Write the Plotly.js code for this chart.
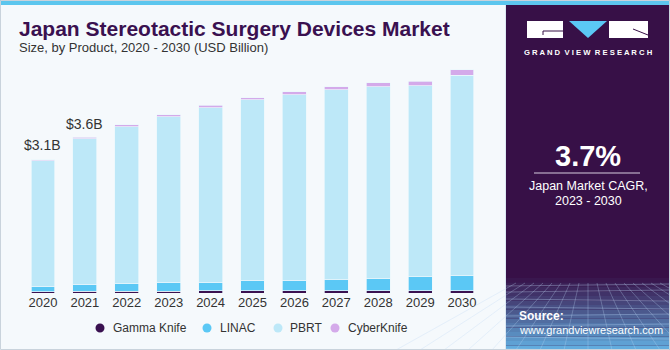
<!DOCTYPE html>
<html>
<head>
<meta charset="utf-8">
<script src="https://cdn.plot.ly/plotly-3.0.1.min.js"></script>
<style>html,body{margin:0;padding:0;background:#f5f9fc;}#chart{width:670px;height:350px;}</style>
</head>
<body>
<div id="chart"></div>
<script>
var years = ['2020','2021','2022','2023','2024','2025','2026','2027','2028','2029','2030'];
var gammaKnife = [0.03,0.04,0.04,0.04,0.05,0.05,0.05,0.05,0.05,0.05,0.05];
var linac = [0.13,0.16,0.18,0.21,0.20,0.23,0.25,0.26,0.28,0.33,0.35];
var pbrt = [2.92,3.40,3.66,3.86,4.07,4.22,4.32,4.43,4.48,4.45,4.68];
var cyberKnife = [0.025,0.035,0.04,0.045,0.06,0.055,0.07,0.065,0.09,0.11,0.12];
var totalLabels = ['$3.1B','$3.6B'];
var totalValues = [3.1,3.6];
var seriesNames = ['Gamma Knife','LINAC','PBRT','CyberKnife'];
var seriesColors = ['#3a1150','#5bc8f5','#bde8f8','#d4aaea'];
var seriesData = [gammaKnife, linac, pbrt, cyberKnife];

var W = 670, H = 350;
function px(x){return x/W;}
function py(y){return 1-y/H;}
var FONT = 'Liberation Sans, Arial, sans-serif';

var traces = [];
seriesData.forEach(function(d,i){
  traces.push({type:'bar', x:years, y:d, name:seriesNames[i], showlegend:false,
    marker:{color:seriesColors[i], line:{color:'rgba(235,246,252,0.9)', width:0.8}},
    hoverinfo:'x+y+name'});
});

var shapes = [];
// right panel
shapes.push({type:'rect', xref:'paper', yref:'paper', x0:px(506), x1:px(670), y0:py(350), y1:py(0), fillcolor:'#371047', line:{width:0}, layer:'below'});
// gradient bands at bottom of panel
var c0=[55,16,71], c1=[98,172,222];
var nb=16, yStart=278;
for (var b=0;b<nb;b++){
  var t=(b+1)/nb; t=Math.pow(t,1.1);
  var col='rgb('+Math.round(c0[0]+(c1[0]-c0[0])*t)+','+Math.round(c0[1]+(c1[1]-c0[1])*t)+','+Math.round(c0[2]+(c1[2]-c0[2])*t)+')';
  var ya=yStart+(350-yStart)*b/nb, yb=yStart+(350-yStart)*(b+1)/nb;
  shapes.push({type:'rect', xref:'paper', yref:'paper', x0:px(506), x1:px(670), y0:py(yb), y1:py(ya), fillcolor:col, line:{width:0}, layer:'below'});
}
// mesh lines
var hy=[286,292,299,307,316,326,337,349];
hy.forEach(function(y){shapes.push({type:'line', xref:'paper', yref:'paper', x0:px(506), x1:px(670), y0:py(y), y1:py(y+((y%2)?2:-2)), line:{color:'rgba(190,215,245,0.35)', width:1}});});
for (var k=-8;k<=8;k++){
  var xt=588+k*9, xb=588+k*24;
  shapes.push({type:'line', xref:'paper', yref:'paper', x0:px(xt), x1:px(xb), y0:py(283), y1:py(350), line:{color:'rgba(190,215,245,0.3)', width:1}});
}
// top strip
shapes.push({type:'rect', xref:'paper', yref:'paper', x0:0, x1:1, y0:py(5), y1:1, fillcolor:'#5cc6ee', line:{width:0}});
// border lines
shapes.push({type:'line', xref:'paper', yref:'paper', x0:px(505.5), x1:px(505.5), y0:0, y1:py(5), line:{color:'#dbe8f3', width:1}});
shapes.push({type:'rect', xref:'paper', yref:'paper', x0:px(0.5), x1:px(669.5), y0:py(349.5), y1:py(0.5), line:{color:'#c9d3dc', width:1}});
// logo
shapes.push({type:'rect', xref:'paper', yref:'paper', x0:px(527), x1:px(563), y0:py(38), y1:py(21), fillcolor:'#ffffff', line:{width:0}});
shapes.push({type:'line', xref:'paper', yref:'paper', x0:px(543), x1:px(563), y0:py(31), y1:py(31), line:{color:'#371047', width:1}});
shapes.push({type:'line', xref:'paper', yref:'paper', x0:px(543), x1:px(543), y0:py(31), y1:py(35), line:{color:'#371047', width:1}});
shapes.push({type:'rect', xref:'paper', yref:'paper', x0:px(609), x1:px(648), y0:py(38), y1:py(21), fillcolor:'#ffffff', line:{width:0}});
shapes.push({type:'line', xref:'paper', yref:'paper', x0:px(633), x1:px(648), y0:py(29), y1:py(35), line:{color:'#371047', width:1}});
shapes.push({type:'path', xref:'paper', yref:'paper',
  path:'M '+px(569)+','+py(21)+' L '+px(607)+','+py(21)+' L '+px(588)+','+py(38)+' Z',
  fillcolor:'#5bc8f5', line:{width:0}});
// CAGR divider
shapes.push({type:'line', xref:'paper', yref:'paper', x0:px(534), x1:px(640), y0:py(173), y1:py(173), line:{color:'#d8cce0', width:1.2}});

var annotations = [];
annotations.push({xref:'paper', yref:'paper', x:px(17), y:py(29), xanchor:'left', yanchor:'middle', showarrow:false,
  text:'<b>Japan Stereotactic Surgery Devices Market</b>', font:{family:FONT, size:21, color:'#3a1150'}});
annotations.push({xref:'paper', yref:'paper', x:px(17), y:py(47), xanchor:'left', yanchor:'middle', showarrow:false,
  text:'Size, by Product, 2020 - 2030 (USD Billion)', font:{family:FONT, size:13, color:'#333333'}});
totalLabels.forEach(function(t,i){
  annotations.push({x:i, y:totalValues[i], xref:'x', yref:'y', yanchor:'bottom', yshift:5, showarrow:false,
    text:t, font:{family:FONT, size:14, color:'#333333'}});
});
// legend (manual, matching reference spacing)
var legMarkX = [100,207,278,335];
var legTextX = [111,218,288,346];
seriesNames.forEach(function(n,i){
  shapes.push({type:'circle', xref:'paper', yref:'paper', x0:px(legMarkX[i]-4.5), x1:px(legMarkX[i]+4.5), y0:py(332.5), y1:py(323.5),
    fillcolor:seriesColors[i], line:{width:0}});
  annotations.push({xref:'paper', yref:'paper', x:px(legTextX[i]), y:py(328), xanchor:'left', yanchor:'middle', showarrow:false,
    text:n, font:{family:FONT, size:12, color:'#333333'}});
});
annotations.push({xref:'paper', yref:'paper', x:px(588), y:py(52), xanchor:'center', yanchor:'middle', showarrow:false,
  text:'<b>G R A N D  V I E W  R E S E A R C H</b>', font:{family:FONT, size:7.7, color:'#ffffff'}});
annotations.push({xref:'paper', yref:'paper', x:px(588), y:py(156), xanchor:'center', yanchor:'middle', showarrow:false,
  text:'<b>3.7%</b>', font:{family:FONT, size:29, color:'#ffffff'}});
annotations.push({xref:'paper', yref:'paper', x:px(588), y:py(186), xanchor:'center', yanchor:'middle', showarrow:false,
  text:'Japan Market CAGR,', font:{family:FONT, size:12.5, color:'#ffffff'}});
annotations.push({xref:'paper', yref:'paper', x:px(588), y:py(201), xanchor:'center', yanchor:'middle', showarrow:false,
  text:'2023 - 2030', font:{family:FONT, size:12.5, color:'#ffffff'}});
annotations.push({xref:'paper', yref:'paper', x:px(517), y:py(316), xanchor:'left', yanchor:'middle', showarrow:false,
  text:'<b>Source:</b>', font:{family:FONT, size:12, color:'#ffffff'}});
annotations.push({xref:'paper', yref:'paper', x:px(517), y:py(330), xanchor:'left', yanchor:'middle', showarrow:false,
  text:'www.grandviewresearch.com', font:{family:FONT, size:11, color:'#ffffff'}});

var layout = {
  width:W, height:H,
  margin:{l:0,r:0,t:0,b:0},
  paper_bgcolor:'#f5f9fc', plot_bgcolor:'rgba(0,0,0,0)',
  barmode:'stack', bargap:0.43,
  font:{family:FONT, size:13, color:'#333333'},
  xaxis:{domain:[22/W, 483/W], type:'category', range:[-0.5,10.5], showgrid:false, zeroline:false, showline:false,
    ticks:'', tickfont:{size:13, color:'#333333'}, fixedrange:true},
  yaxis:{domain:[1-293/H, 1-60/H], range:[0,5.43], visible:false, showgrid:false, zeroline:false, fixedrange:true},
  shapes:shapes,
  annotations:annotations,
  showlegend:false
};

Plotly.newPlot('chart', traces, layout, {displayModeBar:false, staticPlot:true});
</script>
</body>
</html>
